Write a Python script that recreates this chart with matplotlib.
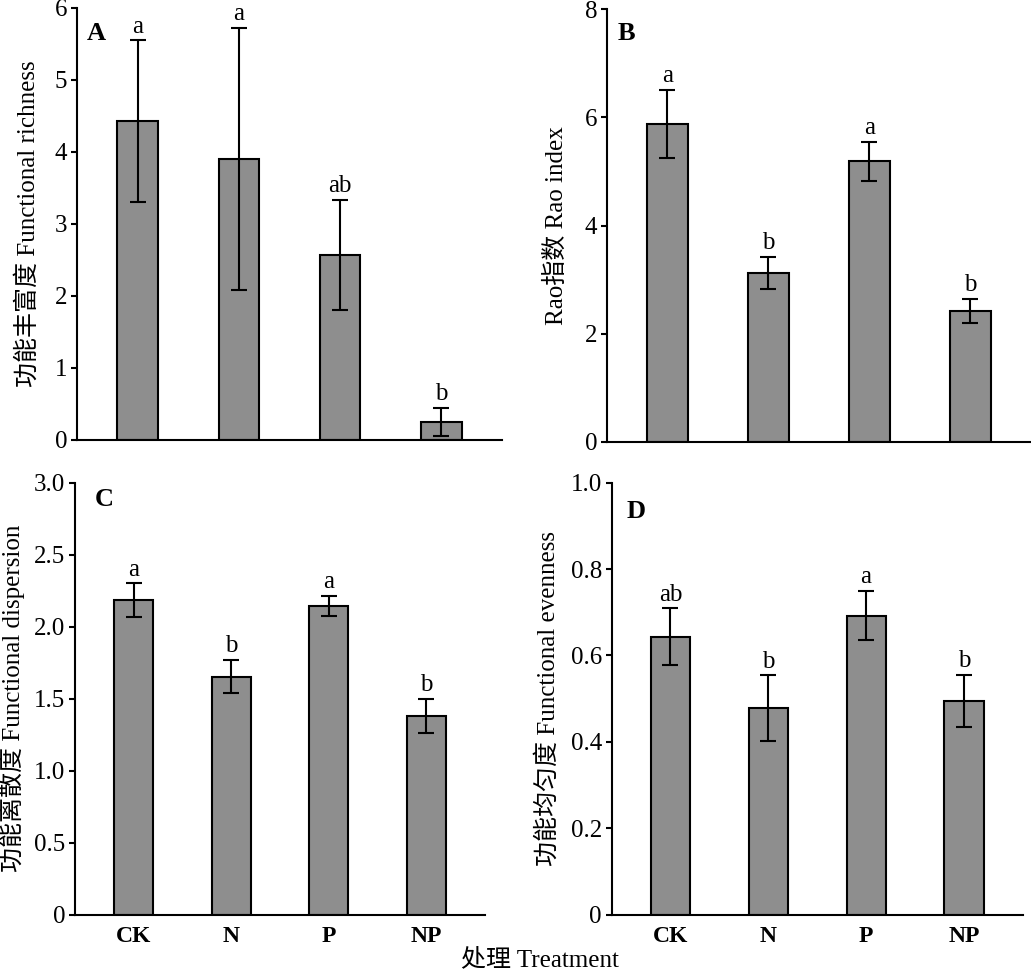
import matplotlib
matplotlib.use("Agg")
import matplotlib.pyplot as plt
from matplotlib.ticker import FuncFormatter

plt.rcParams['font.family'] = ['Liberation Serif', 'Noto Sans CJK SC']
plt.rcParams['font.size'] = 18

# Treatments
treatments = ['CK', 'N', 'P', 'NP']

# A: functional richness
richness_mean = [4.43, 3.90, 2.57, 0.25]
richness_err = [1.12, 1.82, 0.76, 0.20]
richness_letters = ['a', 'a', 'ab', 'b']

# B: Rao index
rao_mean = [5.88, 3.12, 5.19, 2.42]
rao_err = [0.63, 0.30, 0.36, 0.22]
rao_letters = ['a', 'b', 'a', 'b']

# C: functional dispersion
disp_mean = [2.185, 1.653, 2.146, 1.380]
disp_err = [0.115, 0.117, 0.070, 0.120]
disp_letters = ['a', 'b', 'a', 'b']

# D: functional evenness
even_mean = [0.643, 0.478, 0.692, 0.495]
even_err = [0.066, 0.076, 0.057, 0.060]
even_letters = ['ab', 'b', 'a', 'b']

panels = [
    # rect, means, errs, letters, ylabel, ylim, yticks, decimals, tag, tag pos, show x labels
    ([0.0747, 0.5469, 0.4122, 0.4449], richness_mean, richness_err, richness_letters,
     '功能丰富度 Functional richness', 6, [0, 1, 2, 3, 4, 5, 6], 0, 'A', (0.024, 0.942), False),
    ([0.5885, 0.5448, 0.4115, 0.4456], rao_mean, rao_err, rao_letters,
     'Rao指数 Rao index', 8, [0, 2, 4, 6, 8], 0, 'B', (0.026, 0.945), False),
    ([0.0727, 0.0580, 0.3977, 0.4449], disp_mean, disp_err, disp_letters,
     '功能离散度 Functional dispersion', 3.0, [0, 0.5, 1.0, 1.5, 2.0, 2.5, 3.0], 1, 'C', (0.049, 0.96), True),
    ([0.5933, 0.0580, 0.3986, 0.4449], even_mean, even_err, even_letters,
     '功能均匀度 Functional evenness', 1.0, [0, 0.2, 0.4, 0.6, 0.8, 1.0], 1, 'D', (0.036, 0.933), True),
]

# right edge (in pixels) of each rotated y label
ylabel_x = [40, 568, 25, 560]

fig = plt.figure(figsize=(10.31, 9.71), dpi=100)

for i, (rect, means, errs, letters, ylabel, ymax, yticks, dec, tag, tagpos, showx) in enumerate(panels):
    ax = fig.add_axes(rect)
    x = list(range(len(treatments)))
    ax.bar(x, means, width=0.4, color='#8e8e8e', edgecolor='black', linewidth=1.5, zorder=2)
    ax.errorbar(x, means, yerr=errs, fmt='none', ecolor='black', elinewidth=1.5,
                capsize=5.5, capthick=1.5, zorder=3)
    for xi, m, e, lab in zip(x, means, errs, letters):
        ax.annotate(lab, (xi, m + e), xytext=(0, 2), textcoords='offset points',
                    ha='center', va='bottom', fontsize=18)
    ax.set_xlim(-0.6, 3.6)
    ax.set_ylim(0, ymax)
    ax.set_yticks(yticks)
    ax.yaxis.set_major_formatter(FuncFormatter(
        lambda v, p, d=dec: '0' if v == 0 else f'{v:.{d}f}'))
    ax.set_xticks(x)
    if showx:
        ax.set_xticklabels(treatments, fontweight='bold', fontsize=17)
    else:
        ax.set_xticklabels([])
    ax.tick_params(axis='y', direction='out', length=4, width=1.5, labelsize=18, pad=3)
    ax.tick_params(axis='x', direction='in', length=5, width=1.5, pad=8)
    for side in ['top', 'right']:
        ax.spines[side].set_visible(False)
    for side in ['left', 'bottom']:
        ax.spines[side].set_linewidth(1.5)
    ax.text(tagpos[0], tagpos[1], tag, transform=ax.transAxes, fontsize=19,
            fontweight='bold', ha='left', va='center')
    ax.set_ylabel(ylabel, fontsize=18)
    ax.yaxis.set_label_coords((ylabel_x[i] - rect[0] * 1031) / (rect[2] * 1031), 0.5)

fig.text(540 / 1031, 1 - 960 / 971, '处理 Treatment', ha='center', va='center', fontsize=18)

fig.savefig('out.png', dpi=100)
